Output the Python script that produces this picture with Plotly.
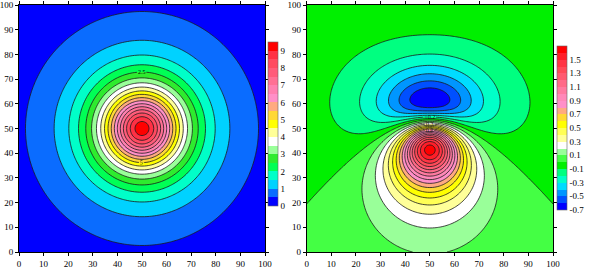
import numpy as np
import plotly.graph_objects as go

# ---------------- values ----------------
axis_ticks = [0, 10, 20, 30, 40, 50, 60, 70, 80, 90, 100]
grid_x = np.arange(0, 101, 1.0)
grid_y = np.arange(0, 101, 1.0)

# left panel: anomaly of a buried sphere (radial field)
grav_center = [50, 50]
grav_depth = 19.3
grav_peak = 9.3
grav_start, grav_end, grav_step = 0.5, 9.0, 0.5
grav_bar_range = [0.0, 9.5]
grav_colors = ["#0000FF", "#0A6CFF", "#00D2FF", "#00FFC8", "#00FF55", "#2EEB2E",
               "#99FF99", "#FFFFFF", "#FFFF99", "#FFFF00", "#FFD836", "#FFAA80",
               "#FF8FC8", "#FF80B0", "#FF7094", "#FF5C7A", "#FF4A60", "#FF3044",
               "#FF0000"]
grav_ticks = [0, 1, 2, 3, 4, 5, 6, 7, 8, 9]
grav_label_levels = [2.5, 5.0]

# right panel: total-field magnetic anomaly of the same sphere
mag_center = [50, 50]
mag_depth = 20.0
mag_inclination = 45.0
mag_peak = 1.65
mag_start, mag_end, mag_step = -0.6, 1.6, 0.1
mag_bar_range = [-0.7, 1.7]
mag_colors = ["#0000FF", "#0050FF", "#0096FF", "#00DCFF", "#00FFC8", "#00FF80",
              "#00F000", "#44FF44", "#99FF99", "#FFFFFF", "#FFFF99", "#FFFF55",
              "#FFFF00", "#FFD836", "#FFAA80", "#FF8FC8", "#FF88B8", "#FF7AA0",
              "#FF6A88", "#FF5A70", "#FF4A58", "#FF3444", "#FF1E28", "#FF0000"]
mag_ticks = [-0.7, -0.5, -0.3, -0.1, 0.1, 0.3, 0.5, 0.7, 0.9, 1.1, 1.3, 1.5]
mag_tick_text = ["-0.7", "-0.5", "-0.3", "-0.1", "0.1", "0.3", "0.5", "0.7",
                 "0.9", "1.1", "1.3", "1.5"]
mag_label_levels = [-0.2, 0.3, 0.8]

# ---------------- build the fields ----------------
X, Y = np.meshgrid(grid_x, grid_y)
dxg, dyg = X - grav_center[0], Y - grav_center[1]
z_grav = grav_peak * (grav_depth ** 2 / (dxg ** 2 + dyg ** 2 + grav_depth ** 2)) ** 1.5

dxm, dym = X - mag_center[0], Y - mag_center[1]
inc = np.radians(mag_inclination)
r2 = dxm ** 2 + dym ** 2 + mag_depth ** 2
tr = dym * np.cos(inc) - mag_depth * np.sin(inc)
f = (3 * tr ** 2 - r2) / r2 ** 2.5
z_mag = mag_peak * f / f.max()

FONT = "Liberation Serif"


def colorscale(colors):
    n = len(colors) - 1
    return [[i / n, c] for i, c in enumerate(colors)]


def step_scale(colors):
    n = len(colors)
    out = []
    for i, c in enumerate(colors):
        out.append([i / n, c])
        out.append([(i + 1) / n, c])
    return out


def levels(start, end, step):
    n = int(round((end - start) / step))
    return [round(start + i * step, 4) for i in range(n + 1)]


fig = go.Figure()


def add_panel(z, start, end, step, colors, xa, ya, cb, bar_range, label_levels):
    fig.add_trace(go.Contour(
        x=grid_x, y=grid_y, z=z, xaxis=xa, yaxis=ya,
        autocontour=False, showscale=False,
        contours=dict(start=start, end=end, size=step, coloring="fill",
                      showlines=False),
        line=dict(width=0),
        colorscale=colorscale(colors),
        hoverinfo="skip"))
    for lv in levels(start, end, step):
        lab = any(abs(lv - l) < 1e-6 for l in label_levels)
        fig.add_trace(go.Contour(
            x=grid_x, y=grid_y, z=z, xaxis=xa, yaxis=ya,
            autocontour=False, showscale=False,
            contours=dict(start=lv, end=lv, size=step, coloring="none",
                          showlabels=lab,
                          labelfont=dict(family=FONT, size=6, color="#000")),
            line=dict(width=0.8, color="#1a1a1a"),
            hoverinfo="skip"))
    # colour key (banded bar with the same colours as the filled levels)
    fig.add_trace(go.Scatter(
        x=[-50], y=[-50], xaxis=xa, yaxis=ya, mode="markers",
        marker=dict(size=1, color=[bar_range[0]], cmin=bar_range[0],
                    cmax=bar_range[1], colorscale=step_scale(colors),
                    showscale=True, colorbar=cb),
        hoverinfo="skip", showlegend=False))


cb_common = dict(thickness=10, len=164 / 270, lenmode="fraction", xanchor="left",
                 yanchor="middle", xpad=0, ypad=0, ticks="", outlinewidth=0.6,
                 outlinecolor="#666", tickfont=dict(family=FONT, size=9, color="#000"))

add_panel(z_grav, grav_start, grav_end, grav_step, grav_colors, "x", "y",
          dict(x=268 / 589, y=1 - 124 / 270, tickvals=grav_ticks, **cb_common),
          grav_bar_range, grav_label_levels)
add_panel(z_mag, mag_start, mag_end, mag_step, mag_colors, "x2", "y2",
          dict(x=557 / 589, y=1 - 128 / 270, tickvals=mag_ticks,
               ticktext=mag_tick_text, **cb_common),
          mag_bar_range, mag_label_levels)

ax = dict(range=[0, 100], tickvals=axis_ticks, ticks="outside", ticklen=3,
          tickcolor="#000", tickwidth=1, showline=True, linecolor="#000",
          linewidth=1, mirror="ticks", showgrid=False, zeroline=False,
          automargin=False,
          tickfont=dict(family=FONT, size=9, color="#000"))

fig.update_layout(
    width=589, height=270,
    margin=dict(l=0, r=0, t=0, b=0, autoexpand=False),
    paper_bgcolor="white", plot_bgcolor="white", showlegend=False,
    xaxis=dict(domain=[19 / 589, 265 / 589], anchor="y", **ax),
    yaxis=dict(domain=[1 - 252 / 270, 1 - 5 / 270], anchor="x", **ax),
    xaxis2=dict(domain=[306.7 / 589, 553 / 589], anchor="y2", **ax),
    yaxis2=dict(domain=[1 - 252 / 270, 1 - 5 / 270], anchor="x2", **ax),
)

fig.write_html(
    "out.html",
    config={"displayModeBar": False, "staticPlot": True},
    post_script="document.body.style.margin='0px';document.body.style.padding='0px';"
                "document.body.style.overflow='hidden';")
